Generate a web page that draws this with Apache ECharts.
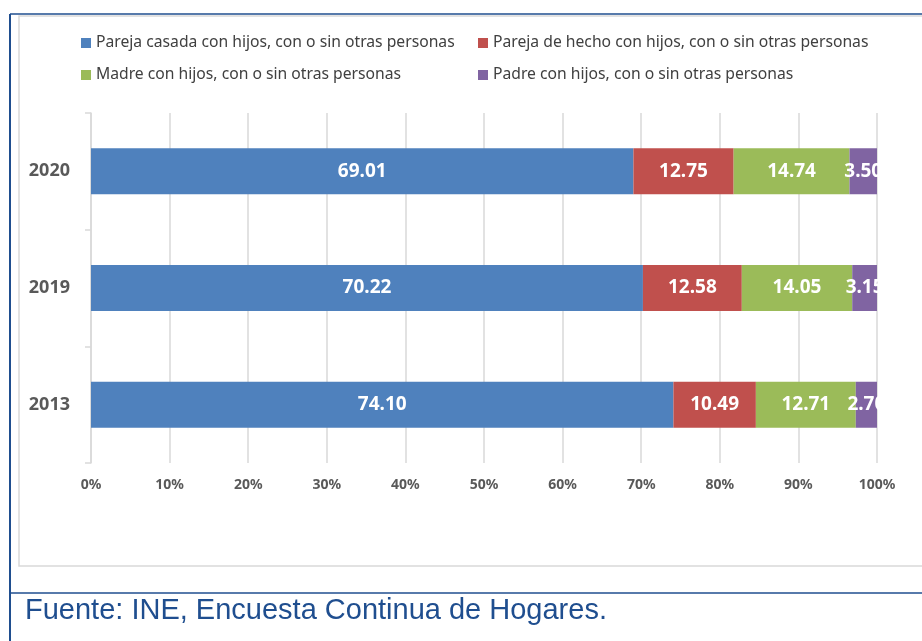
<!DOCTYPE html>
<html>
<head>
<meta charset="utf-8">
<script src="https://cdn.jsdelivr.net/npm/echarts@6/dist/echarts.min.js"></script>
<style>
  html, body { margin: 0; padding: 0; background: #fff; }
  #main { width: 922px; height: 641px; }
</style>
</head>
<body>
<div id="main"></div>
<script>
// años (de abajo arriba, como los pinta echarts)
var years = ['2013', '2019', '2020'];
var seriesNames = [
  'Pareja casada con hijos, con o sin otras personas',
  'Pareja de hecho con hijos, con o sin otras personas',
  'Madre con hijos, con o sin otras personas',
  'Padre con hijos, con o sin otras personas'
];
var casada = [74.10, 70.22, 69.01];
var hecho = [10.49, 12.58, 12.75];
var madre = [12.71, 14.05, 14.74];
var padre = [2.70, 3.15, 3.50];
var xTicks = [0, 10, 20, 30, 40, 50, 60, 70, 80, 90, 100];

var colors = ['#4F81BD', '#C0504D', '#9BBB59', '#8064A2'];
var values = [casada, hecho, madre, padre];

var chart = echarts.init(document.getElementById('main'));

// una leyenda por elemento, para que quede en rejilla 2x2
var legendPos = [[76, 30], [473, 30], [76, 62], [473, 62]];
var legends = seriesNames.map(function (name, i) {
  return {
    data: [name],
    left: legendPos[i][0],
    top: legendPos[i][1],
    itemWidth: 10,
    itemHeight: 10,
    icon: 'rect',
    selectedMode: false,
    textStyle: { fontFamily: 'Noto Sans', fontSize: 15.7, color: '#404040' }
  };
});

var series = seriesNames.map(function (name, i) {
  return {
    name: name,
    type: 'bar',
    stack: 'total',
    barWidth: 46,
    itemStyle: { color: colors[i] },
    label: {
      show: true,
      position: 'inside',
      color: '#fff',
      fontFamily: 'Noto Sans',
      fontWeight: 'bold',
      fontSize: 19,
      formatter: function (p) { return p.value.toFixed(2); }
    },
    data: values[i]
  };
});

var option = {
  animation: false,
  backgroundColor: '#fff',
  color: colors,
  legend: legends,
  grid: { left: 91, right: 45, top: 113, bottom: 178 },
  xAxis: {
    type: 'value',
    min: 0,
    max: 100,
    interval: 10,
    axisLine: { show: false },
    axisTick: { show: false },
    splitLine: { lineStyle: { color: '#d9d9d9', width: 1.5 } },
    axisLabel: {
      margin: 15,
      fontFamily: 'Noto Sans',
      fontWeight: 'bold',
      fontSize: 14,
      color: '#595959',
      formatter: function (v) { return xTicks.indexOf(v) >= 0 ? v + '%' : ''; }
    }
  },
  yAxis: {
    type: 'category',
    data: years,
    axisLine: { show: true, lineStyle: { color: '#d9d9d9', width: 1.5 } },
    axisTick: { show: true, length: 6, lineStyle: { color: '#d9d9d9', width: 1.5 } },
    axisLabel: {
      margin: 21,
      fontFamily: 'Noto Sans',
      fontWeight: 'bold',
      fontSize: 18,
      color: '#595959'
    }
  },
  graphic: [
    // marco gris del gráfico
    { type: 'rect', shape: { x: 19, y: 16, width: 920, height: 550 },
      style: { fill: null, stroke: '#d9d9d9', lineWidth: 1.5 }, silent: true, z: -1 },
    // marco azul
    { type: 'line', shape: { x1: 10, y1: 14, x2: 922, y2: 14 },
      style: { stroke: '#1F4E8F', lineWidth: 1.5 }, silent: true },
    { type: 'line', shape: { x1: 10, y1: 14, x2: 10, y2: 641 },
      style: { stroke: '#1F4E8F', lineWidth: 2 }, silent: true },
    { type: 'line', shape: { x1: 10, y1: 593, x2: 922, y2: 593 },
      style: { stroke: '#1F4E8F', lineWidth: 1.5 }, silent: true },
    { type: 'text', left: 25, top: 596,
      style: { text: 'Fuente: INE, Encuesta Continua de Hogares.',
               font: '29px "Liberation Sans", Arial, sans-serif', fill: '#1F4E8F' } }
  ],
  series: series
};

chart.setOption(option);
</script>
</body>
</html>
